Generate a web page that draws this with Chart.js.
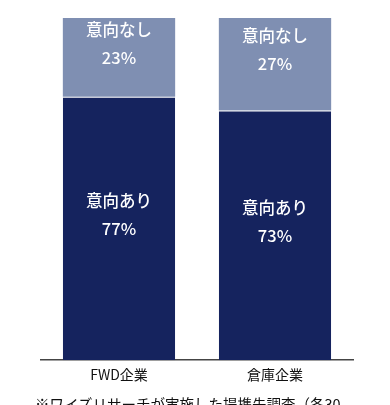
<!DOCTYPE html>
<html>
<head>
<meta charset="utf-8">
<script src="https://cdn.jsdelivr.net/npm/chart.js@4"></script>
<style>
  html, body { margin: 0; padding: 0; background: #fff; overflow: hidden; }
  #wrap { position: relative; width: 390px; height: 405px; }
  #note {
    position: absolute; left: 35px; top: 395px; width: 312px;
    font: 14.5px "Noto Sans CJK JP", sans-serif; line-height: 1.3; color: #111;
  }
</style>
</head>
<body>
<div id="wrap">
  <canvas id="chart" width="390" height="405"></canvas>
  <div id="note">※ワイズリサーチが実施した提携先調査（各30社）</div>
</div>
<script>
// categories and series
const categories = ['FWD企業', '倉庫企業'];
const seriesNames = ['意向あり', '意向なし'];
const withIntent = [77, 73];
const withoutIntent = [23, 27];

// draw "名前 / xx%" inside each segment
const segmentLabels = {
    id: 'segmentLabels',
    afterDatasetsDraw(chart) {
        const ctx = chart.ctx;
        ctx.save();
        ctx.fillStyle = '#fff';
        ctx.font = '500 16.5px "Noto Sans CJK JP", sans-serif';
        ctx.textAlign = 'center';
        ctx.textBaseline = 'middle';
        chart.data.datasets.forEach((ds, i) => {
            const meta = chart.getDatasetMeta(i);
            meta.data.forEach((bar, j) => {
                const mid = (bar.y + bar.base) / 2 - 14;
                ctx.fillText(ds.label, bar.x, mid - 14);
                ctx.fillText(ds.data[j] + '%', bar.x, mid + 14);
            });
        });
        ctx.restore();
    }
};

const ctx = document.getElementById('chart').getContext('2d');
new Chart(ctx, {
    type: 'bar',
    data: {
        labels: categories,
        datasets: [
            {
                label: seriesNames[0],
                data: withIntent,
                backgroundColor: '#15235e',
                borderColor: '#ffffff',
                borderWidth: { top: 1, left: 0, right: 0, bottom: 0 },
                borderSkipped: false,
                barPercentage: 0.72,
                categoryPercentage: 1.0
            },
            {
                label: seriesNames[1],
                data: withoutIntent,
                backgroundColor: '#7f8fb2',
                borderWidth: 0,
                barPercentage: 0.72,
                categoryPercentage: 1.0
            }
        ]
    },
    options: {
        responsive: false,
        animation: false,
        layout: { padding: { left: 41, right: 37, top: 18, bottom: 16 } },
        plugins: {
            legend: { display: false },
            tooltip: { enabled: false }
        },
        scales: {
            x: {
                stacked: true,
                grid: { display: false, drawTicks: false, tickLength: 0 },
                border: { display: true, color: '#444', width: 1.5 },
                ticks: {
                    padding: 6,
                    color: '#111',
                    font: { family: '"Noto Sans CJK JP", sans-serif', size: 14 }
                }
            },
            y: {
                stacked: true,
                display: false,
                min: 0,
                max: 100
            }
        }
    },
    plugins: [segmentLabels]
});
</script>
</body>
</html>
